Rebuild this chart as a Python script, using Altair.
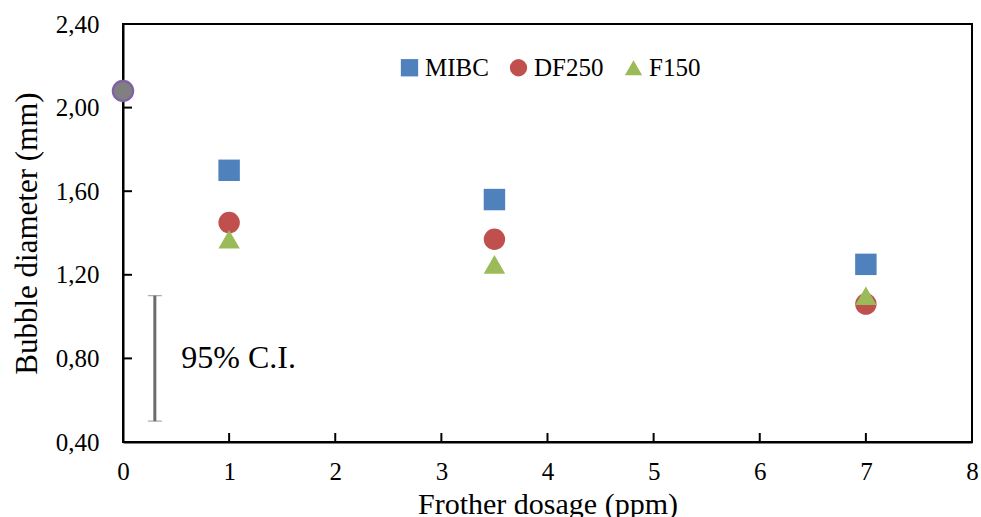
import altair as alt
import pandas as pd

# ---- data ----
dosage = [1, 3.5, 7]
mibc = [1.70, 1.56, 1.25]
df250 = [1.45, 1.37, 1.06]
f150 = [1.37, 1.25, 1.10]
series_names = ["MIBC", "DF250", "F150"]
series_colors = ["#4F81BD", "#C0504D", "#9BBB59"]
series_shapes = ["square", "circle", "triangle-up"]

base_dose = [0]
base_diam = [2.08]

ci_x = [0.3]
ci_low = [0.50]
ci_high = [1.10]
ci_label = ["95% C.I."]
ci_label_x = [0.55]
ci_label_y = [0.80]

x_ticks = [0, 1, 2, 3, 4, 5, 6, 7, 8]
y_ticks = [0.4, 0.8, 1.2, 1.6, 2.0, 2.4]

FONT = "Liberation Serif"
XT = "Frother dosage (ppm)"
YT = "Bubble diameter (mm)"

rows = []
for name, vals in zip(series_names, [mibc, df250, f150]):
    for d, v in zip(dosage, vals):
        rows.append({"dose": d, "diam": v, "series": name})
df = pd.DataFrame(rows)
df_base = pd.DataFrame({"dose": base_dose, "diam": base_diam})
df_ci = pd.DataFrame({"x": ci_x, "lo": ci_low, "hi": ci_high})
df_lab = pd.DataFrame({"x": ci_label_x, "y": ci_label_y, "t": ci_label})
df_xt = pd.DataFrame({"v": x_ticks})
df_yt = pd.DataFrame({"v": y_ticks})

xscale = alt.Scale(domain=[0, 8], nice=False, zero=False)
yscale = alt.Scale(domain=[0.4, 2.4], nice=False, zero=False)

xaxis = alt.Axis(
    values=x_ticks, title=XT, grid=False, ticks=False, format="d",
    labelFont=FONT, labelFontSize=25, labelColor="black", labelPadding=17,
    titleFont=FONT, titleFontSize=30, titleFontWeight="normal", titleColor="black",
    titlePadding=5, domainColor="black", domainWidth=2, labelFlush=False,
)
yaxis = alt.Axis(
    values=y_ticks, title=YT, grid=False, ticks=False,
    labelFont=FONT, labelFontSize=25, labelColor="black", labelPadding=24,
    labelExpr="replace(format(datum.value, '.2f'), '.', ',')",
    titleFont=FONT, titleFontSize=31, titleFontWeight="normal", titleColor="black",
    titlePadding=12, domainColor="black", domainWidth=2, labelFlush=False,
)

points = alt.Chart(df).mark_point(filled=True, size=460, opacity=1).encode(
    x=alt.X("dose:Q", scale=xscale, axis=xaxis, title=XT),
    y=alt.Y("diam:Q", scale=yscale, axis=yaxis, title=YT),
    color=alt.Color(
        "series:N",
        scale=alt.Scale(domain=series_names, range=series_colors),
        legend=alt.Legend(
            title=None, orient="none", legendX=274, legendY=31, direction="horizontal",
            labelFont=FONT, labelFontSize=25, labelColor="black", symbolSize=300,
            columnPadding=17, labelOffset=3, padding=0, symbolStrokeWidth=0,
            symbolOpacity=1,
        ),
    ),
    shape=alt.Shape(
        "series:N",
        scale=alt.Scale(domain=series_names, range=series_shapes),
        legend=None,
    ),
)

base_pt = alt.Chart(df_base).mark_point(
    filled=True, size=400, fill="#808080", stroke="#8064A2", strokeWidth=2.5,
    shape="circle", opacity=1,
).encode(
    x=alt.X("dose:Q", scale=xscale, title=XT),
    y=alt.Y("diam:Q", scale=yscale, title=YT),
)

ci_bar = alt.Chart(df_ci).mark_errorbar(
    ticks={"size": 14, "color": "#6b6b6b", "strokeWidth": 3},
    rule={"color": "#6b6b6b", "strokeWidth": 3},
).encode(
    x=alt.X("x:Q", scale=xscale, title=XT),
    y=alt.Y("lo:Q", scale=yscale, title=YT),
    y2="hi:Q",
)

ci_text = alt.Chart(df_lab).mark_text(
    font=FONT, fontSize=32, align="left", baseline="middle", color="black",
).encode(
    x=alt.X("x:Q", scale=xscale, title=XT),
    y=alt.Y("y:Q", scale=yscale, title=YT),
    text="t:N",
)

xt = alt.Chart(df_xt).mark_rule(color="black", strokeWidth=2).encode(
    x=alt.X("v:Q", scale=xscale, title=XT), y=alt.value(418), y2=alt.value(409)
)
yt = alt.Chart(df_yt).mark_rule(color="black", strokeWidth=2).encode(
    y=alt.Y("v:Q", scale=yscale, title=YT), x=alt.value(0), x2=alt.value(9)
)

chart = alt.layer(xt, yt, ci_bar, ci_text, base_pt, points).properties(
    width=849, height=418,
    autosize=alt.AutoSizeParams(type="none"),
    padding={"left": 123, "top": 24, "right": 9, "bottom": 75},
    background="white",
).configure_view(stroke="black", strokeWidth=2)

chart.save("out.html", embed_options={"renderer": "svg", "actions": False})
